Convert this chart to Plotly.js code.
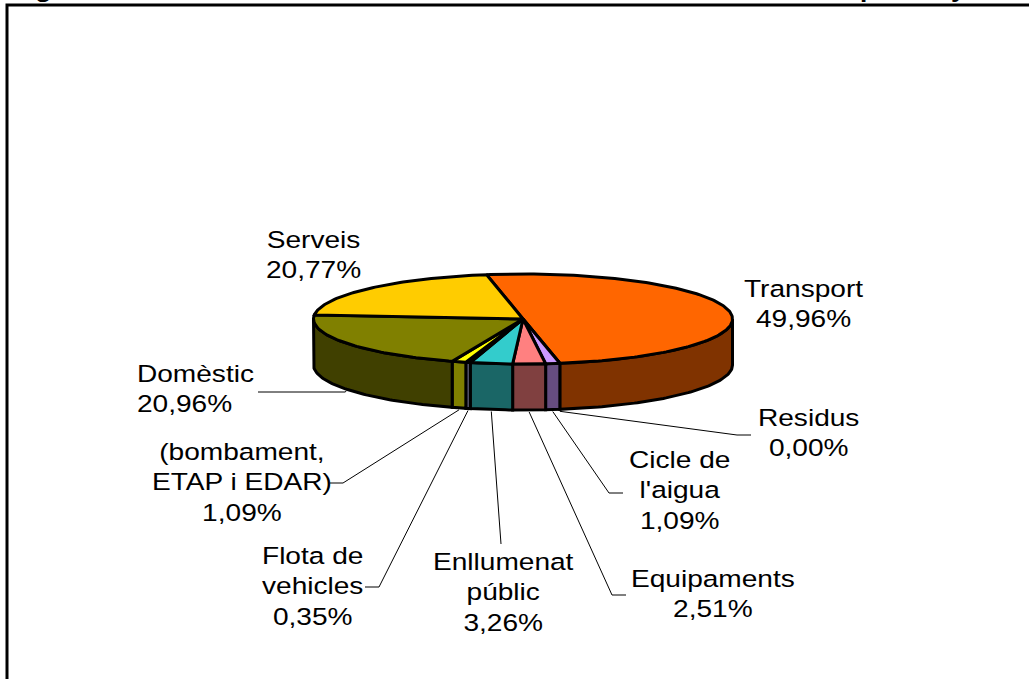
<!DOCTYPE html>
<html>
<head>
<meta charset="utf-8">
<script src="https://cdn.plot.ly/plotly-3.0.1.min.js"></script>
<style>
html,body{margin:0;padding:0;background:#fff;overflow:hidden}
#chart{width:1029px;height:679px}
.annotation-text{transform:scaleX(1.195);transform-box:fill-box;transform-origin:center}
</style>
</head>
<body>
<div id="chart"></div>
<script>
// Data (clockwise order)
const categories = ["Transport","Residus","Cicle de<br>l'aigua","Equipaments","Enllumenat<br>públic","Flota de<br>vehicles","(bombament,<br>ETAP i EDAR)","Domèstic","Serveis"];
const shares = [49.96,0.00,1.09,2.51,3.26,0.35,1.09,20.96,20.77];
const topColors = ["#FF6600","#CC99FF","#CC99FF","#FF8080","#33CCCC","#CCCCFF","#FFFF00","#808000","#FFCC00"];
const sideColors = ["#803300","#664D80","#664D80","#804040","#1A6666","#666680","#808000","#404000","#806600"];

// Pie geometry (pixels on the full-page axes)
const cx = 523, cy = 319, rx = 209.5, ry = 45, depth = 46, startDeg = -10;
// Label placement: box centre; leader elbow points from the slice outward
const labelPos = [
  {x:803,y:303.5,a:'center'},{x:808,y:432.5,a:'center'},{x:679,y:490,a:'center'},
  {x:713,y:593.5,a:'center'},{x:503,y:592.5,a:'center'},{x:312,y:586.5,a:'center'},
  {x:242,y:482,a:'center'},{x:195.5,y:388.5,a:'left'},{x:313,y:254.5,a:'center'}
];
const leaders = [
  null,
  [[737,435],[751,435]],
  [[609,493],[623,493]],
  [[612,595],[626,595]],
  [[501,544]],
  [[379,587],[365,587]],
  [[343,483],[330,483]],
  [[345,392],[258,392]],
  null
];

const rad = d => d*Math.PI/180;
const px = t => cx + rx*Math.sin(rad(t));
const py = (t,dz=0) => cy - ry*Math.cos(rad(t)) + dz;
function arc(t1,t2,dz=0){
  const xs=[],ys=[],n=Math.max(1,Math.ceil(Math.abs(t2-t1)));
  for(let i=0;i<=n;i++){const t=t1+(t2-t1)*i/n;xs.push(px(t));ys.push(py(t,dz));}
  return [xs,ys];
}
const total = shares.reduce((a,b)=>a+b,0);
let acc = startDeg;
const ranges = shares.map(v=>{const s=acc;acc+=v/total*360;return [s,acc];});

const sides=[],tops=[],lines=[];
ranges.forEach((r,i)=>{
  const a=Math.max(r[0],90),b=Math.min(r[1],270);
  if(b>a){
    const [x1,y1]=arc(a,b,0),[x2,y2]=arc(b,a,depth);
    sides.push({type:'scatter',mode:'lines',x:[...x1,...x2,x1[0]],y:[...y1,...y2,y1[0]],
      fill:'toself',fillcolor:sideColors[i],line:{color:'#000',width:3},hoverinfo:'skip',showlegend:false});
  }
  const [xt,yt]=arc(r[0],r[1],0);
  tops.push({type:'scatter',mode:'lines',x:[cx,...xt,cx],y:[cy,...yt,cy],
    fill:'toself',fillcolor:topColors[i],line:{color:'#000',width:3},
    name:categories[i],hoverinfo:'skip',showlegend:false});
  if(leaders[i]){
    const m=(r[0]+r[1])/2;
    const lx=[px(m),...leaders[i].map(p=>p[0])], ly=[py(m,depth)+2,...leaders[i].map(p=>p[1])];
    lines.push({type:'scatter',mode:'lines',x:lx,y:ly,line:{color:'#000',width:1},hoverinfo:'skip',showlegend:false});
  }
});

const fmt=v=>v.toFixed(2).replace('.',',')+'%';
const font={family:'"Liberation Sans",Arial,sans-serif',size:23.5,color:'#000'};
const annotations=categories.map((c,i)=>({
  text:c+'<br>'+fmt(shares[i]),x:labelPos[i].x,y:labelPos[i].y,xref:'x',yref:'y',
  xanchor:'center',yanchor:'middle',align:labelPos[i].a,showarrow:false,font,borderpad:0
}));
const titleFont={family:'"Liberation Sans",Arial,sans-serif',size:22,color:'#000',weight:700};
[{t:'Figura',x:52},{t:'p',x:868},{t:'y',x:958}].forEach(f=>annotations.push({
  text:f.t,x:f.x,y:3,xref:'x',yref:'y',xanchor:'center',yanchor:'bottom',showarrow:false,font:titleFont,borderpad:0
}));

const layout={
  width:1029,height:679,margin:{l:0,r:0,t:0,b:0},paper_bgcolor:'#fff',plot_bgcolor:'#fff',showlegend:false,
  xaxis:{range:[0,1029],visible:false,fixedrange:true},
  yaxis:{range:[679,0],visible:false,fixedrange:true},
  annotations,
  shapes:[{type:'path',path:'M 7 679 L 7 5 L 1029 5',xref:'x',yref:'y',line:{color:'#000',width:3}}]
};
Plotly.newPlot('chart',[...lines,...sides,...tops],layout,{displayModeBar:false,staticPlot:true});
</script>
</body>
</html>
